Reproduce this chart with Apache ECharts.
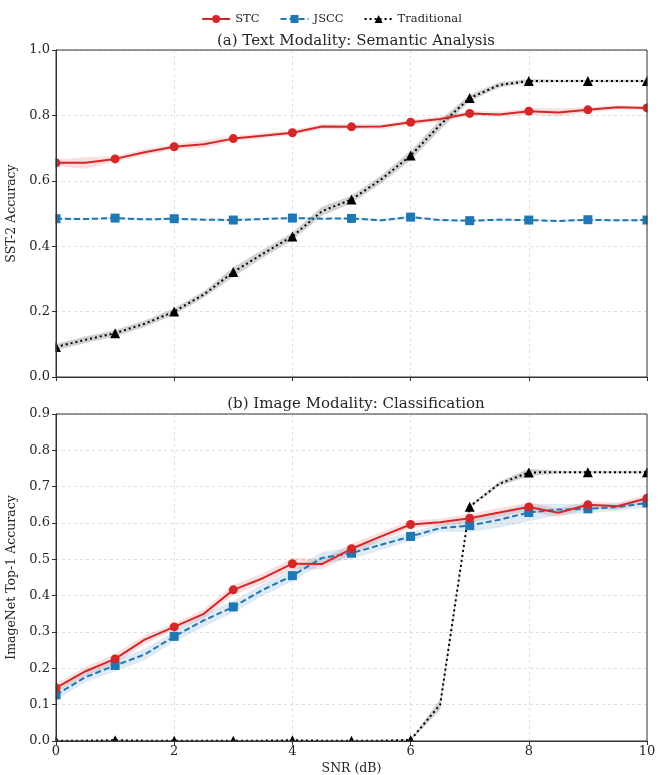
<!DOCTYPE html>
<html><head><meta charset="utf-8">
<script src="https://cdn.jsdelivr.net/npm/echarts@6/dist/echarts.min.js"></script>
<style>html,body{margin:0;padding:0;background:#fff}#c{width:663px;height:775px}</style>
</head><body><div id="c"></div>
<script>
const snr = [0,0.5,1,1.5,2,2.5,3,3.5,4,4.5,5,5.5,6,6.5,7,7.5,8,8.5,9,9.5,10];
const xTicks = [0,2,4,6,8,10];
const seriesNames = ['STC','JSCC','Traditional'];
// (a) Text modality: SST-2 accuracy
const textSTC  = [0.655,0.655,0.667,0.687,0.704,0.712,0.729,0.738,0.747,0.766,0.765,0.766,0.779,0.789,0.806,0.803,0.813,0.809,0.817,0.825,0.823];
const textJSCC = [0.484,0.483,0.486,0.482,0.484,0.481,0.480,0.483,0.486,0.484,0.485,0.479,0.489,0.480,0.478,0.481,0.480,0.477,0.481,0.479,0.480];
const textTrad = [0.092,0.114,0.134,0.163,0.200,0.252,0.321,0.377,0.430,0.507,0.543,0.604,0.677,0.771,0.853,0.893,0.905,0.905,0.905,0.905,0.905];
const textSTCsd  = [0.010,0.018,0.008,0.010,0.008,0.012,0.008,0.008,0.008,0.008,0.008,0.008,0.008,0.008,0.008,0.008,0.010,0.012,0.008,0.006,0.006];
const textJSCCsd = [0.004,0.004,0.004,0.004,0.004,0.004,0.005,0.004,0.004,0.004,0.004,0.004,0.005,0.004,0.004,0.004,0.004,0.004,0.004,0.004,0.004];
const textTradSd = [0.010,0.010,0.010,0.010,0.010,0.010,0.015,0.012,0.012,0.014,0.012,0.012,0.014,0.016,0.010,0.008,0.006,0.004,0.004,0.004,0.004];
// (b) Image modality: ImageNet top-1 accuracy
const imgSTC  = [0.146,0.192,0.226,0.279,0.314,0.350,0.416,0.448,0.488,0.487,0.529,0.563,0.596,0.602,0.613,0.629,0.644,0.628,0.650,0.646,0.668];
const imgJSCC = [0.127,0.176,0.208,0.238,0.288,0.332,0.369,0.416,0.455,0.504,0.517,0.540,0.563,0.586,0.593,0.609,0.629,0.637,0.639,0.644,0.655];
const imgTrad = [0.001,0.001,0.002,0.001,0.001,0.001,0.001,0.001,0.002,0.001,0.001,0.001,0.003,0.100,0.645,0.708,0.739,0.740,0.740,0.740,0.740];
const imgSTCsd  = [0.012,0.012,0.014,0.012,0.010,0.012,0.014,0.014,0.016,0.014,0.014,0.012,0.010,0.010,0.012,0.012,0.012,0.012,0.010,0.010,0.010];
const imgJSCCsd = [0.014,0.014,0.016,0.016,0.014,0.018,0.016,0.016,0.016,0.016,0.016,0.014,0.012,0.010,0.018,0.022,0.024,0.016,0.012,0.010,0.012];
const imgTradSd = [0.002,0.002,0.002,0.002,0.002,0.002,0.002,0.002,0.002,0.002,0.002,0.002,0.002,0.015,0.004,0.006,0.010,0.004,0.004,0.004,0.004];

const FONT = 'DejaVu Serif';
const TXT = '#262626';
const RED = '#d62728', BLUE = '#1f77b4', BLACK = '#000000';

function pts(ys){ return snr.map((x,i)=> Number.isInteger(x) ? {value:[x,ys[i]]} : {value:[x,ys[i]], symbol:'none'}); }
function band(gi, ys, sd, fill){
  return {type:'custom', xAxisIndex:gi, yAxisIndex:gi, silent:true, clip:true, z:1,
    data:[[0,0]], encode:{x:0,y:1},
    renderItem:function(params, api){
      const p=[];
      for(let i=0;i<snr.length;i++) p.push(api.coord([snr[i], ys[i]-sd[i]]));
      for(let i=snr.length-1;i>=0;i--) p.push(api.coord([snr[i], ys[i]+sd[i]]));
      return {type:'polygon', shape:{points:p}, style:{fill:fill}};
    }};
}
function line(gi, name, ys, color, sym, lt, z){
  return {type:'line', name:name, xAxisIndex:gi, yAxisIndex:gi, data:pts(ys), symbol:sym, symbolSize: sym==='triangle'?10:9,
    showAllSymbol:true, clip:true, z:z,
    lineStyle:{color:color, width:2, type:lt}, itemStyle:{color:color}, emphasis:{disabled:true}};
}
const grids=[{left:56,top:50,width:591,height:327},{left:56,top:414,width:591,height:327}];
const SPLIT = {show:true,lineStyle:{color:'#d9d9d9',type:[3,3],width:0.8}};
function xBase(gi){
  return {type:'value', gridIndex:gi, position:'bottom', min:0, max:10, interval:2, z:0,
    axisLine:{show:false}, axisTick:{show:false}, axisLabel:{show:false}, splitLine:SPLIT};
}
function xFront(gi, showLabels){
  return {type:'value', gridIndex:gi, position:'bottom', offset:0, min:0, max:10, interval:2, z:10,
    name: showLabels?'SNR (dB)':'', nameLocation:'middle', nameGap:21,
    nameTextStyle:{fontFamily:FONT,fontSize:12.5,color:TXT},
    axisLine:{show:true,onZero:false,lineStyle:{color:'#333',width:1}},
    axisTick:{show:true,inside:false,length:4,lineStyle:{color:'#333'}},
    axisLabel:{show:showLabels,fontFamily:FONT,fontSize:13,color:TXT,margin:4},
    splitLine:{show:false}};
}
function yBase(gi, max, itv){
  return {type:'value', gridIndex:gi, position:'left', min:0, max:max, interval:itv, z:0,
    axisLine:{show:false}, axisTick:{show:false}, axisLabel:{show:false}, splitLine:SPLIT};
}
function yFront(gi, max, itv, name){
  return {type:'value', gridIndex:gi, position:'left', offset:0, min:0, max:max, interval:itv, z:10,
    name:name, nameLocation:'middle', nameGap:33,
    nameTextStyle:{fontFamily:FONT,fontSize:12.5,color:TXT},
    axisLine:{show:true,onZero:false,lineStyle:{color:'#333',width:1}},
    axisTick:{show:true,inside:false,length:4,lineStyle:{color:'#333'}},
    axisLabel:{fontFamily:FONT,fontSize:13,color:TXT,margin:6,formatter:v=>v.toFixed(1)},
    splitLine:{show:false}};
}
// white strips just outside each plot area so that markers are clipped at the axes
const strips=[];
grids.forEach(g=>{
  const b=g.top+g.height, r=g.left+g.width;
  strips.push({type:'rect', silent:true, z:6, shape:{x:g.left-7, y:g.top, width:6.5, height:g.height+8}, style:{fill:'#fff'}});
  strips.push({type:'rect', silent:true, z:6, shape:{x:g.left-7, y:b+0.5, width:g.width+16, height:7}, style:{fill:'#fff'}});
  strips.push({type:'rect', silent:true, z:6, shape:{x:r+0.5, y:g.top, width:8, height:g.height+8}, style:{fill:'#fff'}});
});
const chart = echarts.init(document.getElementById('c'), null, {renderer:'canvas'});
chart.setOption({
  animation:false,
  backgroundColor:'#fff',
  title:[
    {text:'(a) Text Modality: Semantic Analysis', left:351, top:29, textAlign:'center', textStyle:{fontFamily:FONT,fontSize:15,fontWeight:'normal',color:TXT}},
    {text:'(b) Image Modality: Classification', left:351, top:392, textAlign:'center', textStyle:{fontFamily:FONT,fontSize:15,fontWeight:'normal',color:TXT}}
  ],
  legend:{data:seriesNames, top:8, left:'center', itemWidth:28, itemHeight:10, itemGap:20,
    textStyle:{fontFamily:FONT,fontSize:11.5,color:TXT}},
  grid: grids.map(g=>Object.assign({show:true,z:10,borderColor:'#333',borderWidth:1,backgroundColor:'transparent',containLabel:false,outerBoundsMode:'none'},g)),
  graphic: strips,
  xAxis:[xBase(0), xBase(1), xFront(0,false), xFront(1,true)],
  yAxis:[yBase(0,1.0,0.2), yBase(1,0.9,0.1), yFront(0,1.0,0.2,'SST-2 Accuracy'), yFront(1,0.9,0.1,'ImageNet Top-1 Accuracy')],
  series:[
    band(0,textSTC,textSTCsd,'rgba(214,39,40,0.15)'),
    band(0,textJSCC,textJSCCsd,'rgba(31,119,180,0.15)'),
    band(0,textTrad,textTradSd,'rgba(0,0,0,0.18)'),
    line(0,'STC',textSTC,RED,'circle','solid',5),
    line(0,'JSCC',textJSCC,BLUE,'rect',[6,3],4),
    line(0,'Traditional',textTrad,BLACK,'triangle',[2,3],3),
    band(1,imgSTC,imgSTCsd,'rgba(214,39,40,0.15)'),
    band(1,imgJSCC,imgJSCCsd,'rgba(31,119,180,0.15)'),
    band(1,imgTrad,imgTradSd,'rgba(0,0,0,0.18)'),
    line(1,'STC',imgSTC,RED,'circle','solid',5),
    line(1,'JSCC',imgJSCC,BLUE,'rect',[6,3],4),
    line(1,'Traditional',imgTrad,BLACK,'triangle',[2,3],3)
  ]
});
</script></body></html>
